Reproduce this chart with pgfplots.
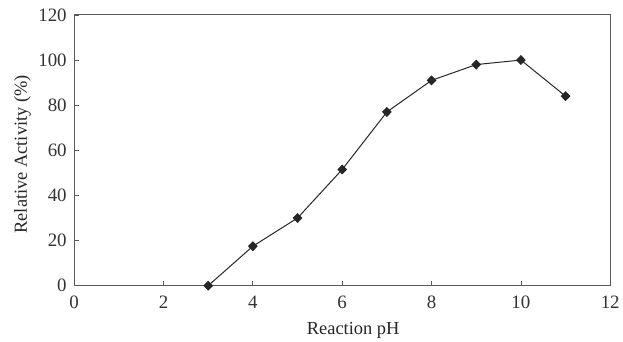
\documentclass[border=0pt]{standalone}
\usepackage{fontspec}
\setmainfont{Liberation Serif}
\usepackage{pgfplots}
\pgfplotsset{compat=1.18}
\begin{document}
\begin{tikzpicture}[x=1bp,y=1bp]
\begin{axis}[
  at={(0,0)}, anchor=south west,
  scale only axis, width=538.5bp, height=272bp,
  xmin=0, xmax=12, ymin=0, ymax=120,
  xtick={0,2,...,12}, ytick={0,20,...,120},
  axis line style={draw=black!65, line width=0.9pt},
  tick style={draw=black!65, line width=0.8pt},
  major tick length=5bp,
  tick align=inside,
  xtick pos=bottom, ytick pos=left,
  /pgf/number format/assume math mode=true,
  ticklabel style={font=\fontsize{19bp}{21bp}\selectfont, text=black!80},
  xticklabel style={yshift=-7bp},
  yticklabel style={xshift=-4bp},
  xlabel={Reaction pH}, ylabel={Relative Activity (\%)},
  label style={font=\fontsize{18.5bp}{20bp}\selectfont, text=black!85},
  xlabel style={at={(axis description cs:0.5,0)}, anchor=base, yshift=-49bp, xshift=11bp},
  ylabel style={at={(axis description cs:0,0.5)}, anchor=base, yshift=47.5bp, xshift=-4bp},
  clip=false,
]
\addplot[black!85, line width=1pt, mark=diamond*, mark size=4.3bp, mark options={fill=black!85, draw=black!85, xscale=1.3}]
coordinates {(3,0) (4,17.5) (5,30) (6,51.5) (7,77) (8,91) (9,98) (10,100) (11,84)};
\end{axis}
\path (-74.5bp,-52bp) rectangle (548.5bp,287bp);
\end{tikzpicture}
\end{document}
